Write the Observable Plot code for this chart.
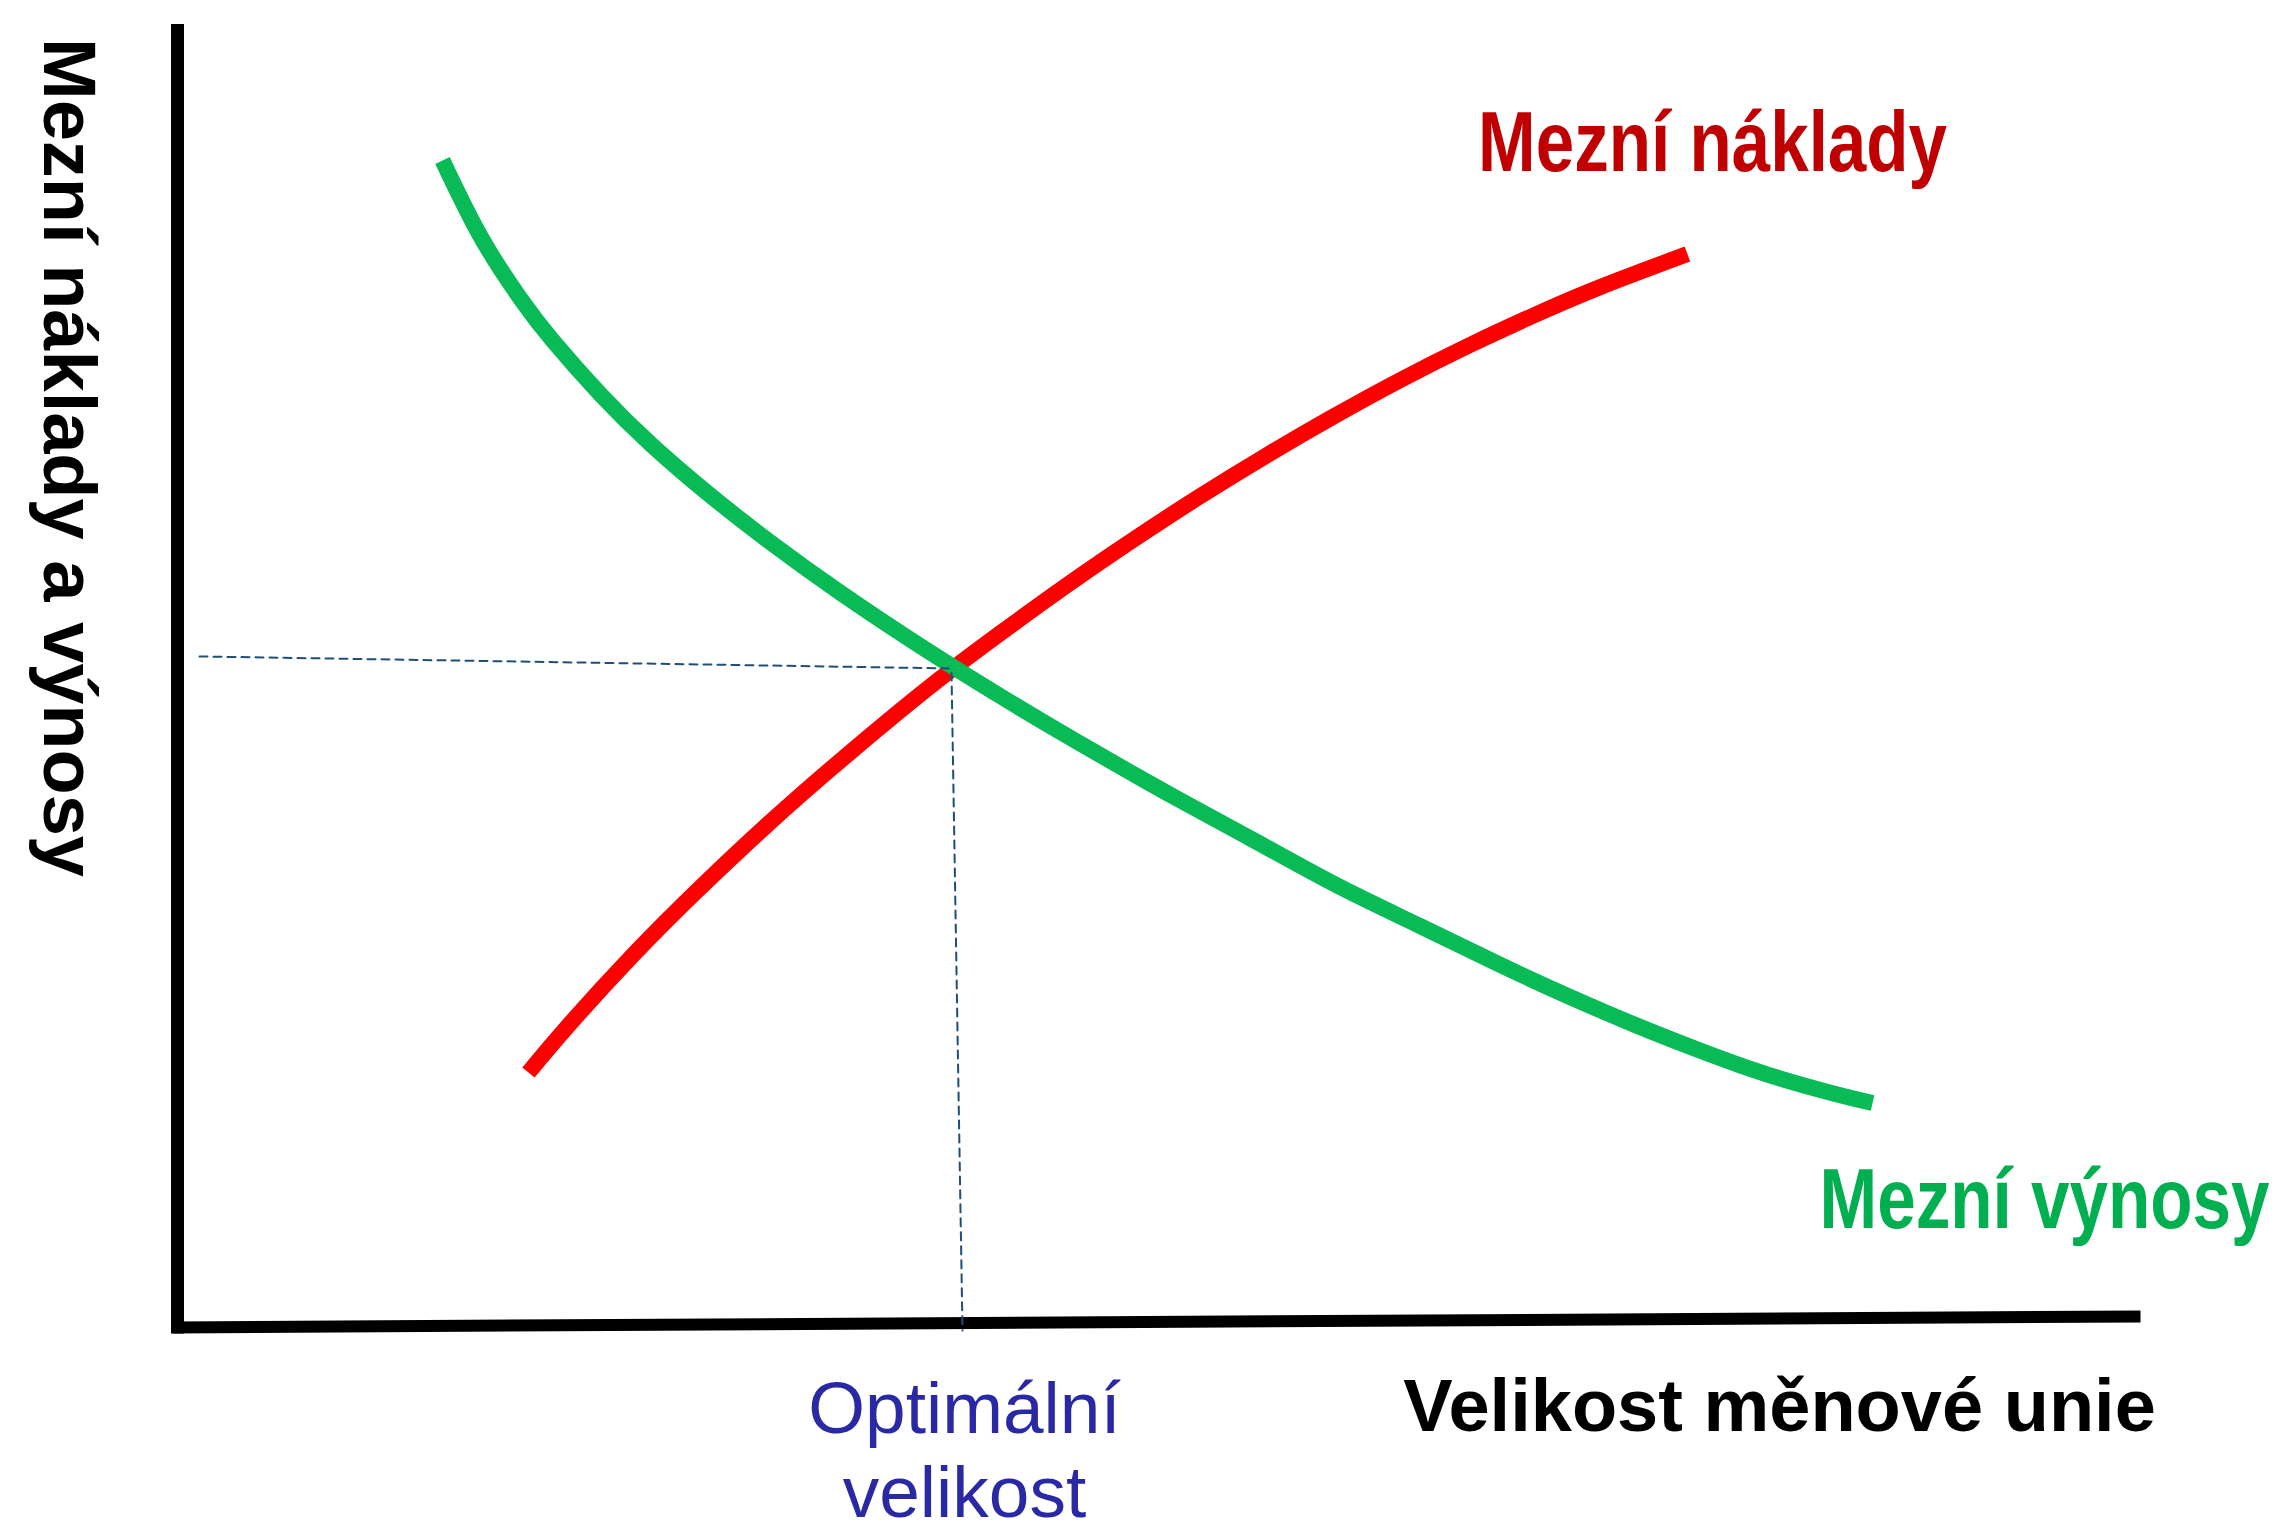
<!DOCTYPE html>
<html>
<head>
<meta charset="utf-8">
<script src="https://cdn.jsdelivr.net/npm/d3@7"></script>
<script src="https://cdn.jsdelivr.net/npm/@observablehq/plot@0.6"></script>
<style>
  html, body { margin: 0; padding: 0; background: white; }
  #chart svg { display: block; }
</style>
</head>
<body>
<div id="chart"></div>
<script>
// Marginal costs (red, rising), arbitrary units 0–100
const costX = [17.88, 19.87, 23.23, 26.64, 30.06, 33.42, 36.83, 39.38, 41.93, 45.34, 48.70, 52.11, 55.53, 58.89, 62.30, 65.72, 69.08, 72.49, 76.92];
const costY = [19.60, 23.14, 28.67, 33.82, 38.66, 43.12, 47.43, 50.50, 53.38, 57.09, 60.56, 63.91, 67.08, 70.02, 72.83, 75.43, 77.79, 79.98, 82.51];

// Marginal benefits (green, falling)
const benefitX = [13.50, 15.44, 17.47, 19.15, 21.55, 24.10, 27.15, 30.36, 33.78, 37.19, 39.48, 41.93, 45.34, 48.70, 50.94, 55.07, 59.14, 63.27, 67.40, 70.81, 74.17, 77.59, 81.00, 84.36, 86.35];
const benefitY = [89.70, 83.86, 79.09, 75.79, 71.71, 67.91, 63.95, 60.18, 56.47, 53.02, 50.81, 48.52, 45.45, 42.53, 40.64, 37.25, 33.92, 30.88, 27.86, 25.49, 23.31, 21.27, 19.44, 17.99, 17.25];

// Dashed guides from the optimum to the axes
const guideHX = [1.12, 39.28];
const guideHY = [51.58, 50.66];
const guideVX = [39.43, 39.99];
const guideVY = [50.35, -0.23];

// Hand-drawn axes (x axis slightly slanted in the original)
const xAxisX = [-0.25, 100];
const xAxisY = [0, 0.85];

// Text labels
const costLabel = "Mezní náklady";
const benefitLabel = "Mezní výnosy";
const xTitle = "Velikost měnové unie";
const yTitle = "Mezní náklady a výnosy";
const optimumLabel = "Optimální\nvelikost";

const toPts = (xs, ys) => xs.map((x, i) => ({x, y: ys[i]}));

const narrow = "'Liberation Sans Narrow', 'Arial Narrow', 'Liberation Sans', Arial, sans-serif";
const sans = "'Liberation Sans', Arial, sans-serif";

const chart = Plot.plot({
  width: 2275,
  height: 1523,
  marginLeft: 177,
  marginRight: 135,
  marginTop: 26,
  marginBottom: 196,
  x: {domain: [0, 100], axis: null},
  y: {domain: [0, 100], axis: null},
  style: {background: "white", overflow: "visible", fontFamily: sans},
  marks: [
    Plot.ruleX([0], {y1: -0.5, y2: 100.15, stroke: "black", strokeWidth: 13}),
    Plot.line(toPts(xAxisX, xAxisY), {x: "x", y: "y", stroke: "black", strokeWidth: 12, strokeLinecap: "butt"}),
    Plot.line(toPts(costX, costY), {x: "x", y: "y", stroke: "#ff0000", strokeWidth: 16, curve: "natural", strokeLinecap: "butt"}),
    Plot.line(toPts(benefitX, benefitY), {x: "x", y: "y", stroke: "#08bb56", strokeWidth: 16, curve: "natural", strokeLinecap: "butt"}),
    Plot.line(toPts(guideHX, guideHY), {x: "x", y: "y", stroke: "#1f4e79", strokeWidth: 2, strokeDasharray: "8,6"}),
    Plot.line(toPts(guideVX, guideVY), {x: "x", y: "y", stroke: "#1f4e79", strokeWidth: 2, strokeDasharray: "8,6"}),
    Plot.text([costLabel], {x: 78.2, y: 88.93, text: d => d, fill: "#c00000", fontSize: 85, fontWeight: "bold", fontFamily: narrow, textAnchor: "middle", lineAnchor: "bottom"}),
    Plot.text([benefitLabel], {x: 95.11, y: 7.61, text: d => d, fill: "#00b050", fontSize: 85, fontWeight: "bold", fontFamily: narrow, textAnchor: "middle", lineAnchor: "bottom"}),
    Plot.text([xTitle], {x: 81.61, y: -7.92, text: d => d, fill: "black", fontSize: 74, fontWeight: "bold", fontFamily: sans, textAnchor: "middle", lineAnchor: "bottom"}),
    Plot.text([optimumLabel], {x: 40.09, y: -14.6, text: d => d, fill: "#2929a6", fontSize: 73, fontFamily: sans, textAnchor: "middle", lineAnchor: "bottom", lineHeight: 1.16}),
    Plot.text([yTitle], {x: -6.78, y: 66.87, text: d => d, fill: "black", fontSize: 74, fontWeight: "bold", fontFamily: sans, textAnchor: "middle", lineAnchor: "bottom", rotate: 90})
  ]
});

// Condensed labels: force the measured widths
chart.querySelectorAll("text").forEach(t => {
  const s = t.textContent;
  if (s === costLabel) { t.setAttribute("textLength", 469); t.setAttribute("lengthAdjust", "spacingAndGlyphs"); }
  if (s === benefitLabel) { t.setAttribute("textLength", 450); t.setAttribute("lengthAdjust", "spacingAndGlyphs"); }
});

document.getElementById("chart").appendChild(chart);
</script>
</body>
</html>
